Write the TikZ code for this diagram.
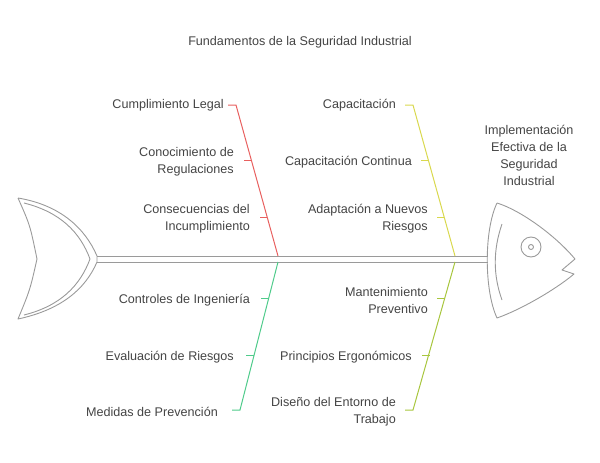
\documentclass[tikz,border=0pt]{standalone}
\usepackage{fontspec}
\setmainfont{Liberation Sans}
\usepackage{xcolor}
\definecolor{boneRed}{HTML}{E8605F}
\definecolor{boneYellow}{HTML}{D9D84E}
\definecolor{boneGreen}{HTML}{4FCB8B}
\definecolor{boneOlive}{HTML}{A8C63E}
\definecolor{fishGray}{HTML}{9A9A9A}
\definecolor{labelGray}{HTML}{444444}
\tikzset{
    cause-label/.style = {anchor=east, align=right, text=labelGray, font=\fontsize{12.6}{17}\selectfont, inner sep=0pt},
    fish-line/.style = {draw=fishGray, line width=0.9pt, line join=round},
    bone/.style = {line width=1pt},
}
\begin{document}
\begin{tikzpicture}[x=1pt,y=-1pt]
\useasboundingbox (0,0) rectangle (600,463);
\node[text=labelGray, font=\fontsize{12.6}{17}\selectfont] (title) at (300,42) {Fundamentos de la Seguridad Industrial};

% spine
\draw[fish-line] (97,256) -- (488,256);
\draw[fish-line] (97,262) -- (488,262);

% tail
\draw[fish-line] (18,198) .. controls (30,225) .. (37,259) .. controls (30,290) .. (18,319)
    .. controls (60,310) and (85,290) .. (97,262) -- (97,256) .. controls (85,228) and (60,205) .. (18,198);
\draw[fish-line] (24,203) .. controls (60,212) and (80,232) .. (90,259) .. controls (80,286) and (60,306) .. (24,315);

% head
\draw[fish-line] (497,203) .. controls (520,210) and (555,235) .. (575,259) -- (562,270) -- (574,274)
    .. controls (555,290) and (520,310) .. (497,318) .. controls (484,290) and (484,230) .. (497,203);
\draw[fish-line] (502,224) .. controls (493,250) and (493,275) .. (502,300);
\node[draw=fishGray, line width=0.9pt, circle, minimum size=20pt, inner sep=0pt] (eye) at (531,247) {};
\node[draw=fishGray, line width=0.9pt, circle, minimum size=5pt, inner sep=0pt] (pupil) at (531,247) {};

\node[text=labelGray, align=center, font=\fontsize{12.6}{17}\selectfont] (effect) at (529,155) {Implementación\\Efectiva de la\\Seguridad\\Industrial};

% red bone
\coordinate (r0) at (278,256);
\draw[bone, boneRed] (228,105) -- (236,105) -- (r0);
\draw[bone, boneRed] (244,160) -- (251,160);
\draw[bone, boneRed] (260,217) -- (267,217);
\node[cause-label] (r1) at (224,105) {Cumplimiento Legal};
\node[cause-label] (r2) at (234,162) {Conocimiento de\\Regulaciones};
\node[cause-label] (r3) at (250,219) {Consecuencias del\\Incumplimiento};

% yellow bone
\coordinate (y0) at (455,256);
\draw[bone, boneYellow] (405,105) -- (413,105) -- (y0);
\draw[bone, boneYellow] (421,160) -- (428,160);
\draw[bone, boneYellow] (437,217) -- (444,217);
\node[cause-label] (y1) at (396,105) {Capacitación};
\node[cause-label] (y2) at (412,162) {Capacitación Continua};
\node[cause-label] (y3) at (428,219) {Adaptación a Nuevos\\Riesgos};

% green bone
\coordinate (g0) at (278,262);
\draw[bone, boneGreen] (g0) -- (240,410) -- (232,410);
\draw[bone, boneGreen] (261,298) -- (269,298);
\draw[bone, boneGreen] (246,355) -- (254,355);
\node[cause-label] (g1) at (250,300) {Controles de Ingeniería};
\node[cause-label] (g2) at (234,357) {Evaluación de Riesgos};
\node[cause-label] (g3) at (218,412) {Medidas de Prevención};

% olive bone
\coordinate (o0) at (455,262);
\draw[bone, boneOlive] (o0) -- (413,410) -- (405,410);
\draw[bone, boneOlive] (437,298) -- (445,298);
\draw[bone, boneOlive] (422,355) -- (430,355);
\node[cause-label] (o1) at (428,300) {Mantenimiento\\Preventivo};
\node[cause-label] (o2) at (412,357) {Principios Ergonómicos};
\node[cause-label] (o3) at (396,412) {Diseño del Entorno de\\Trabajo};
\end{tikzpicture}
\end{document}
